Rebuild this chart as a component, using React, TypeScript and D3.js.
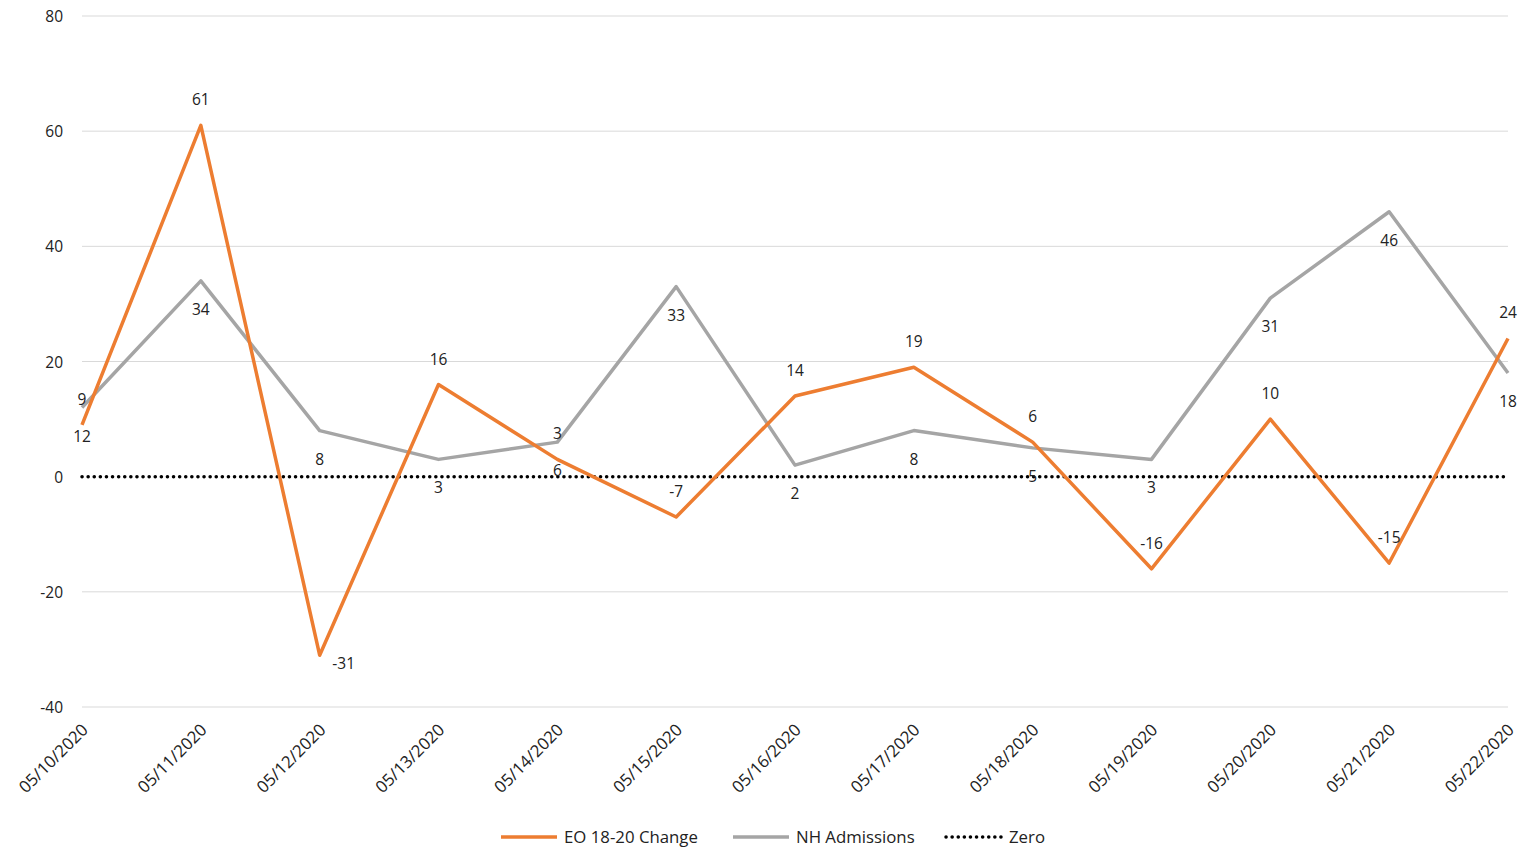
import React, { useEffect, useRef } from 'react';
import * as d3 from 'd3';

const dates = ['05/10/2020', '05/11/2020', '05/12/2020', '05/13/2020', '05/14/2020', '05/15/2020', '05/16/2020',
    '05/17/2020', '05/18/2020', '05/19/2020', '05/20/2020', '05/21/2020', '05/22/2020'];
const eoChange = [9, 61, -31, 16, 3, -7, 14, 19, 6, -16, 10, -15, 24];
const nhAdmissions = [12, 34, 8, 3, 6, 33, 2, 8, 5, 3, 31, 46, 18];
const yTicks = [-40, -20, 0, 20, 40, 60, 80];

const App: React.FC = () => {
    const ref = useRef<SVGSVGElement>(null);

    useEffect(() => {
        const svg = d3.select(ref.current);
        svg.selectAll('*').remove();
        const font = '"Open Sans", "Liberation Sans", sans-serif';
        const fs = 15.5;
        const fsBig = 16.8;

        const x = d3.scalePoint<string>().domain(dates).range([82, 1508]);
        const y = d3.scaleLinear().domain([-40, 80]).range([707, 16]);

        // grid
        svg.append('g').selectAll('line').data(yTicks.filter(t => t !== 0)).enter().append('line')
            .attr('x1', 82).attr('x2', 1508)
            .attr('y1', d => y(d)).attr('y2', d => y(d))
            .attr('stroke', '#d9d9d9').attr('stroke-width', 1);

        svg.append('g').selectAll('text').data(yTicks).enter().append('text')
            .attr('x', 63).attr('y', d => y(d) + 6)
            .attr('text-anchor', 'end').attr('font-family', font).attr('font-size', fs).attr('fill', '#222')
            .text(d => d);

        // x labels
        svg.append('g').selectAll('text').data(dates).enter().append('text')
            .attr('transform', d => `translate(${x(d)! + 7},${731}) rotate(-45)`)
            .attr('text-anchor', 'end').attr('font-family', font).attr('font-size', fsBig).attr('fill', '#222')
            .text(d => d);

        // zero line
        svg.append('line').attr('x1', 82).attr('x2', 1508).attr('y1', y(0)).attr('y2', y(0))
            .attr('stroke', '#000').attr('stroke-width', 3.5).attr('stroke-dasharray', '0.1 6')
            .attr('stroke-linecap', 'round');

        const line = d3.line<number>().x((_, i) => x(dates[i])!).y(d => y(d));

        svg.append('path').datum(nhAdmissions).attr('d', line).attr('fill', 'none')
            .attr('stroke', '#a5a5a5').attr('stroke-width', 3.5).attr('stroke-linejoin', 'round');
        svg.append('path').datum(eoChange).attr('d', line).attr('fill', 'none')
            .attr('stroke', '#ed7d31').attr('stroke-width', 3.5).attr('stroke-linejoin', 'round');

        svg.append('g').selectAll('text').data(nhAdmissions).enter().append('text')
            .attr('x', (_, i) => x(dates[i])!).attr('y', d => y(d) + 34)
            .attr('text-anchor', 'middle').attr('font-family', font).attr('font-size', fs).attr('fill', '#222')
            .text(d => d);
        svg.append('g').selectAll('text').data(eoChange).enter().append('text')
            .attr('x', (d, i) => x(dates[i])! + (d === -31 ? 24 : 0))
            .attr('y', d => d === -31 ? y(d) + 14 : y(d) - 20)
            .attr('text-anchor', 'middle').attr('font-family', font).attr('font-size', fs).attr('fill', '#222')
            .text(d => d);

        // legend
        const legendItems = [
            { label: 'EO 18-20 Change', color: '#ed7d31', x: 501, dash: '' },
            { label: 'NH Admissions', color: '#a5a5a5', x: 733, dash: '' },
            { label: 'Zero', color: '#000', x: 946, dash: '0.1 6' },
        ];
        const lg = svg.append('g').selectAll('g').data(legendItems).enter().append('g')
            .attr('transform', d => `translate(${d.x},837)`);
        lg.append('line').attr('x1', 0).attr('x2', 56).attr('y1', 0).attr('y2', 0)
            .attr('stroke', d => d.color).attr('stroke-width', 3.5)
            .attr('stroke-dasharray', d => d.dash || null).attr('stroke-linecap', d => d.dash ? 'round' : 'butt');
        lg.append('text').attr('x', 63).attr('y', 6).attr('font-family', font).attr('font-size', fsBig)
            .attr('fill', '#222').text(d => d.label);
    }, []);

    return <svg ref={ref} width={1524} height={850} style={{ position: 'absolute', left: 0, top: 0 }}></svg>;
};

export default App;
